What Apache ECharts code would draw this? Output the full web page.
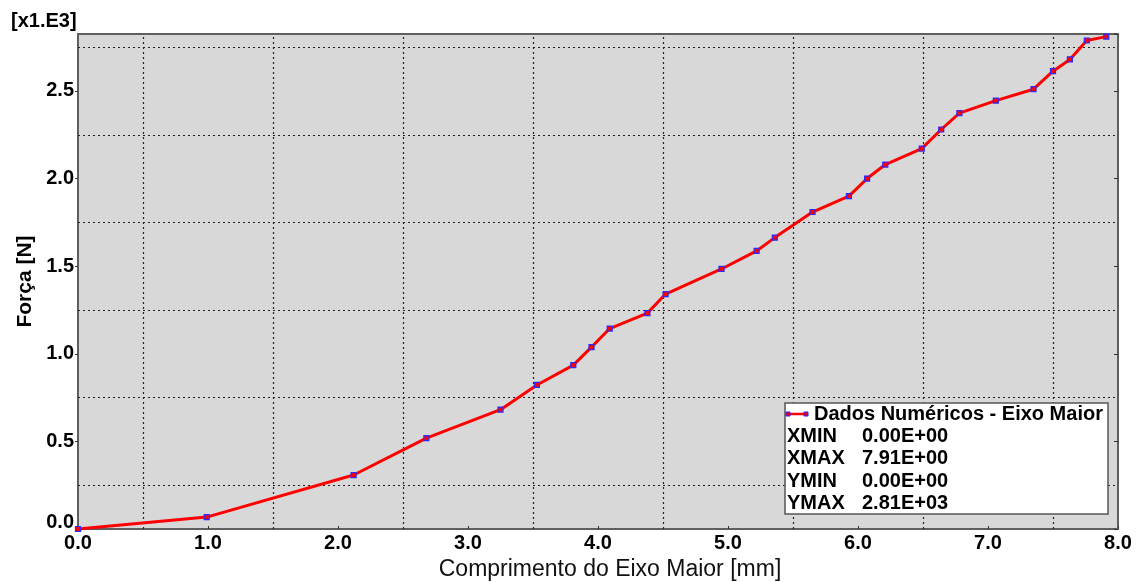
<!DOCTYPE html>
<html>
<head>
<meta charset="utf-8">
<script src="https://cdn.jsdelivr.net/npm/echarts@6/dist/echarts.min.js"></script>
<style>
html,body{margin:0;padding:0;background:#fff;}
#chart{width:1143px;height:582px;}
</style>
</head>
<body>
<div id="chart"></div>
<script>
// ---- data ----
var xValues = [0, 0.99, 2.12, 2.68, 3.25, 3.53, 3.81, 3.95, 4.09, 4.38, 4.52, 4.95, 5.22, 5.36, 5.65, 5.93, 6.07, 6.21, 6.49, 6.64, 6.78, 7.06, 7.35, 7.50, 7.63, 7.76, 7.91];
var yValues = [0, 68, 308, 519, 681, 822, 935, 1038, 1144, 1232, 1341, 1484, 1587, 1663, 1809, 1900, 2000, 2080, 2171, 2280, 2373, 2445, 2510, 2613, 2680, 2788, 2810];
var seriesName = 'Dados Numéricos - Eixo Maior';
var xGridValues = [0.5, 1.5, 2.5, 3.5, 4.5, 5.5, 6.5, 7.5];
var yGridValues = [250, 750, 1250, 1750, 2250, 2750];
var yScaleLabel = '[x1.E3]';
var xAxisName = 'Comprimento do Eixo Maior [mm]';
var yAxisName = 'Força [N]';

var FONT = '"Liberation Sans", Arial, Helvetica, sans-serif';

function sci(v) {
  var s = v.toExponential(2).toUpperCase();
  var m = s.match(/^(-?[\d.]+)E([+-])(\d+)$/);
  var e = m[3].length < 2 ? '0' + m[3] : m[3];
  return m[1] + 'E' + m[2] + e;
}
var stats = [
  ['XMIN', sci(Math.min.apply(null, xValues))],
  ['XMAX', sci(Math.max.apply(null, xValues))],
  ['YMIN', sci(Math.min.apply(null, yValues))],
  ['YMAX', sci(Math.max.apply(null, yValues))]
];

var pts = xValues.map(function (x, i) { return [x, yValues[i]]; });

var chart = echarts.init(document.getElementById('chart'), null, {renderer: 'canvas'});

var gridLines = [];
xGridValues.forEach(function (v) { gridLines.push({xAxis: v}); });
yGridValues.forEach(function (v) { gridLines.push({yAxis: v}); });

var graphics = [
  {type: 'text', left: 11, top: 11, style: {text: yScaleLabel, font: 'bold 20px ' + FONT, fill: '#000'}},
  {type: 'rect', shape: {x: 785, y: 403, width: 323, height: 111}, style: {fill: '#fff', stroke: '#555', lineWidth: 1.5}, z: 10},
  {type: 'line', shape: {x1: 788, y1: 414, x2: 806, y2: 414}, style: {stroke: '#ff0000', lineWidth: 2.5}, z: 11},
  {type: 'rect', shape: {x: 786, y: 412, width: 4, height: 4}, style: {fill: '#ff0000', stroke: '#2020ff', lineWidth: 1}, z: 12},
  {type: 'rect', shape: {x: 804, y: 412, width: 4, height: 4}, style: {fill: '#ff0000', stroke: '#2020ff', lineWidth: 1}, z: 12},
  {type: 'text', x: 814, y: 414, style: {text: seriesName, font: 'bold 20px ' + FONT, fill: '#000', verticalAlign: 'middle'}, z: 11}
];
stats.forEach(function (s, i) {
  var y = 436.5 + i * 22.3;
  graphics.push({type: 'text', x: 787, y: y, style: {text: s[0], font: 'bold 20px ' + FONT, fill: '#000', verticalAlign: 'middle'}, z: 11});
  graphics.push({type: 'text', x: 862, y: y, style: {text: s[1], font: 'bold 20px ' + FONT, fill: '#000', verticalAlign: 'middle'}, z: 11});
});

chart.setOption({
  animation: false,
  backgroundColor: '#ffffff',
  textStyle: {fontFamily: FONT},
  grid: {left: 78, right: 25, top: 34, bottom: 53, show: true, backgroundColor: '#d8d8d8', borderColor: '#5f5f5f', borderWidth: 2,
    containLabel: false, outerBoundsMode: 'none'},
  xAxis: [{
    type: 'value', min: 0, max: 8, interval: 1,
    name: xAxisName, nameLocation: 'middle', nameGap: 26,
    nameTextStyle: {fontSize: 23, color: '#111', fontFamily: FONT, padding: [0, 0, 0, 24]},
    axisLine: {show: true, lineStyle: {color: '#5f5f5f', width: 2}},
    axisTick: {show: true, inside: true, length: 3, lineStyle: {color: '#333', width: 1}},
    axisLabel: {margin: 4, fontSize: 20, fontWeight: 'bold', color: '#000', fontFamily: FONT,
      formatter: function (v) { return v.toFixed(1); }},
    splitLine: {show: false}
  }],
  yAxis: [{
    type: 'value', min: 0, max: 2825, interval: 500,
    name: yAxisName, nameLocation: 'middle', nameGap: 42, nameRotate: 90,
    nameTextStyle: {fontSize: 21, fontWeight: 'bold', color: '#000', fontFamily: FONT},
    axisLine: {show: true, lineStyle: {color: '#5f5f5f', width: 2}},
    axisTick: {show: true, inside: false, length: 3, lineStyle: {color: '#333', width: 1}},
    axisLabel: {margin: 4, fontSize: 20, fontWeight: 'bold', color: '#000', fontFamily: FONT, showMaxLabel: false,
      formatter: function (v) { return v === 0 ? '{z|0.0}' : (v / 1000).toFixed(1); },
      rich: {z: {fontSize: 20, fontWeight: 'bold', color: '#000', fontFamily: FONT, padding: [0, 0, 14, 0]}}},
    splitLine: {show: false}
  }, {
    type: 'value', min: 0, max: 2825, interval: 500, position: 'right',
    axisLine: {show: false}, axisLabel: {show: false}, splitLine: {show: false},
    axisTick: {show: true, inside: true, length: 4, lineStyle: {color: '#333', width: 1}}
  }],
  series: [{
    name: seriesName,
    type: 'line',
    data: pts,
    yAxisIndex: 0,
    clip: false,
    symbol: 'rect',
    symbolSize: 5,
    showAllSymbol: true,
    lineStyle: {color: '#ff0000', width: 3},
    itemStyle: {color: '#ff0000', borderColor: '#2a2aff', borderWidth: 1.2},
    z: 5,
    markLine: {
      silent: true, symbol: 'none', label: {show: false},
      lineStyle: {color: '#222', type: [2, 3], width: 1.2},
      data: gridLines,
      z: 1
    }
  }],
  graphic: graphics
});
</script>
</body>
</html>
